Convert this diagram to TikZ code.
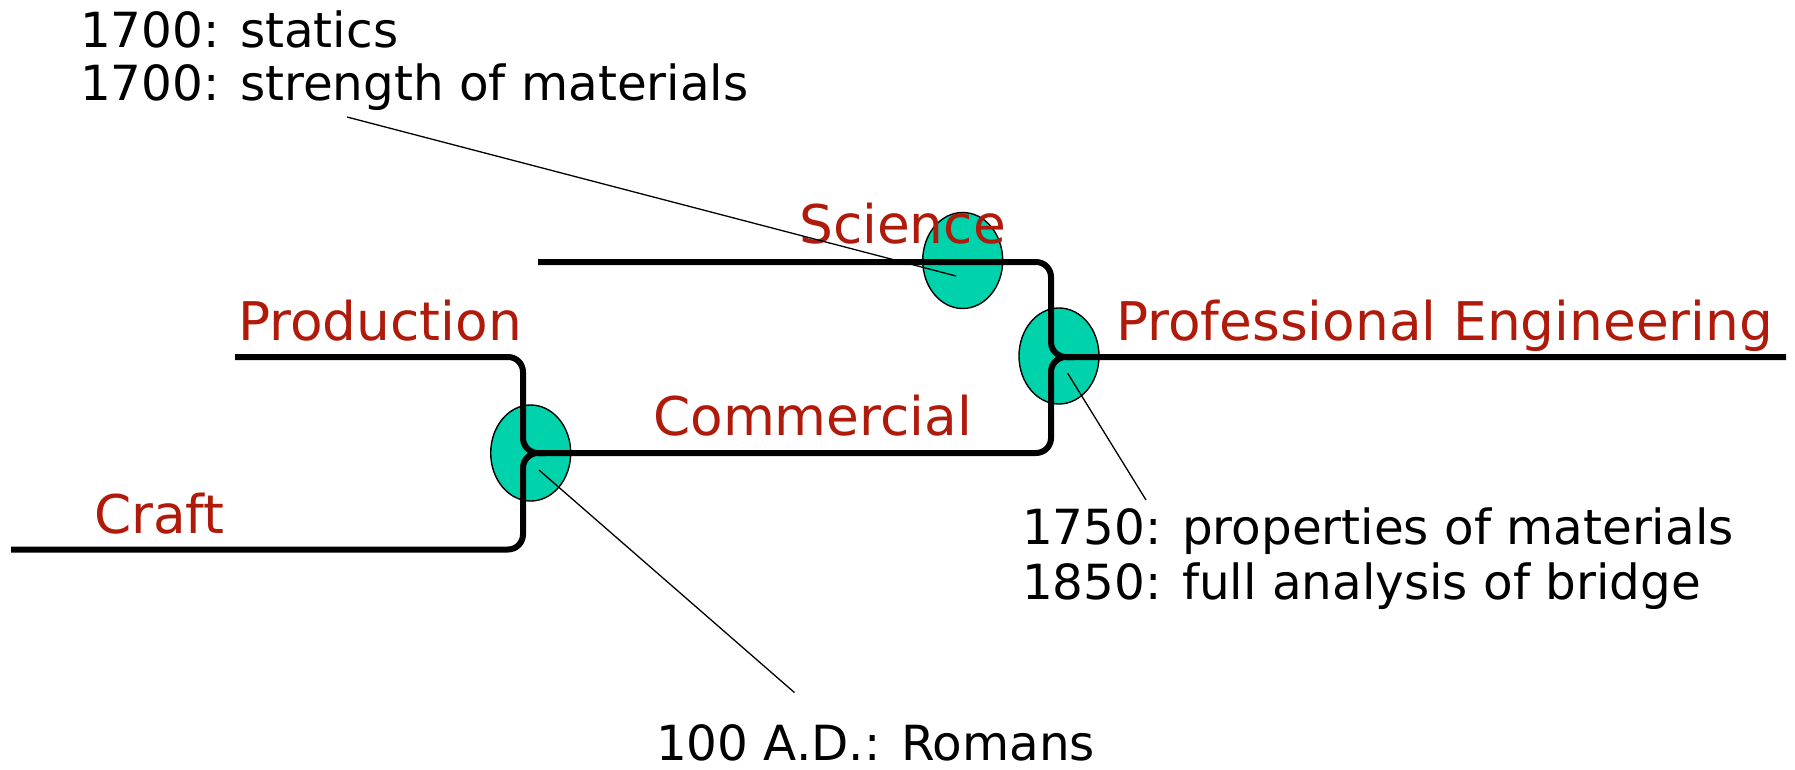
\documentclass[tikz,border=0pt]{standalone}
\usepackage{fontspec}
\setmainfont{DejaVu Sans}
\usetikzlibrary{shapes.geometric}
\definecolor{labred}{RGB}{176,26,10}
\definecolor{junc}{RGB}{0,210,172}
\tikzset{
  flow/.style={line width=6pt, rounded corners=15pt, line cap=butt},
  callout/.style={line width=1.3pt},
  junction/.style={ellipse, draw=black, line width=1.4pt, fill=junc, minimum width=80pt, minimum height=96pt, inner sep=0pt},
  redlabel/.style={anchor=base west, inner sep=0pt, text=labred, font=\fontsize{53.3}{60}\selectfont},
  note/.style={anchor=base west, inner sep=0pt, text=black, font=\fontsize{48.4}{55}\selectfont},
}
\begin{document}
\begin{tikzpicture}[x=1pt,y=-1pt]
\useasboundingbox (0,0) rectangle (1795,770);
% junctions
\node[junction] (j1) at (530.7,453) {};
\node[junction] (j2) at (962.7,260.5) {};
\node[junction] (j3) at (1059,356) {};
% line end points
\coordinate (craftS) at (11,549.5);
\coordinate (prodS) at (235,357);
\coordinate (sciS) at (538,262);
\coordinate (profE) at (1786,357);
% thick flow lines
\draw[flow] (craftS) -- (523,549.5) -- (523,453) -- (1051,453) -- (1051,357) -- (profE);
\draw[flow] (prodS) -- (523,357) -- (523,453) -- (545,453);
\draw[flow] (sciS) -- (1051,262) -- (1051,357) -- (1075,357);
% labels
\node[redlabel] (craft) at (94,533) {Craft};
\node[redlabel] (prod) at (238,340) {Production};
\node[redlabel] (comm) at (653,435) {Commercial};
\node[redlabel] (sci) at (799,243.5) {Science};
\node[redlabel] (prof) at (1116,340) {Professional Engineering};
% notes
\node[note] (n1) at (80,48) {1700: statics};
\node[note] (n2) at (80,101) {1700: strength of materials};
\node[note] (n3) at (1022,544) {1750: properties of materials};
\node[note] (n4) at (1022,599) {1850: full analysis of bridge};
\node[note] (n5) at (656,760) {100 A.D.: Romans};
% callouts
\coordinate (c1a) at (347,117);
\coordinate (c1b) at (956,276);
\coordinate (c2a) at (539,470);
\coordinate (c2b) at (794.5,692.6);
\coordinate (c3a) at (1067.7,373.3);
\coordinate (c3b) at (1146,500);
\draw[callout] (c1a) -- (c1b);
\draw[callout] (c2a) -- (c2b);
\draw[callout] (c3a) -- (c3b);
\end{tikzpicture}
\end{document}
